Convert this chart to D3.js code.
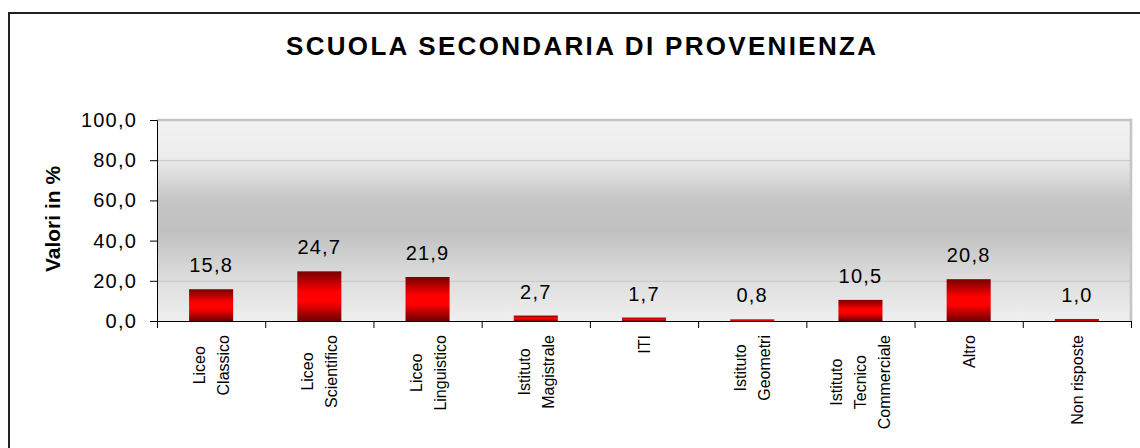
<!DOCTYPE html>
<html>
<head>
<meta charset="utf-8">
<script src="https://cdn.jsdelivr.net/npm/d3@7/dist/d3.min.js"></script>
<style>
  html, body { margin: 0; padding: 0; background: #fff; }
  svg { display: block; font-family: "Liberation Sans", Arial, sans-serif; }
</style>
</head>
<body>
<svg id="chart" width="1140" height="448"></svg>
<script>
// data
const categories = [
  ["Liceo", "Classico"],
  ["Liceo", "Scientifico"],
  ["Liceo", "Linguistico"],
  ["Istituto", "Magistrale"],
  ["ITI"],
  ["Istituto", "Geometri"],
  ["Istituto", "Tecnico", "Commerciale"],
  ["Altro"],
  ["Non risposte"]
];
const values = [15.8, 24.7, 21.9, 2.7, 1.7, 0.8, 10.5, 20.8, 1.0];
const yTicks = [0, 20, 40, 60, 80, 100];

const title = "SCUOLA SECONDARIA DI PROVENIENZA";
const yTitle = "Valori in %";

const svg = d3.select("#chart");
const W = 1140, H = 448;
const plot = { left: 157, right: 1131, top: 120, bottom: 321 };

const fmt = v => v.toFixed(1).replace(".", ",");

const defs = svg.append("defs");

// plot background: light at edges, darker in the middle
const bg = defs.append("linearGradient")
  .attr("id", "bgGrad").attr("x1", 0).attr("y1", 0).attr("x2", 0).attr("y2", 1);
[[0, "#f2f2f2"], [0.18, "#ececec"], [0.4, "#c6c6c6"], [0.55, "#c0c0c0"], [0.8, "#dedede"], [1, "#efefef"]]
  .forEach(([o, c]) => bg.append("stop").attr("offset", o).attr("stop-color", c));

// bar fill: dark red at top and bottom, bright red centre
const barGrad = defs.append("linearGradient")
  .attr("id", "barGrad").attr("x1", 0).attr("y1", 0).attr("x2", 0).attr("y2", 1);
[[0, "#780000"], [0.42, "#ff0000"], [0.62, "#ff0000"], [1, "#6e0000"]]
  .forEach(([o, c]) => barGrad.append("stop").attr("offset", o).attr("stop-color", c));

// outer frame (only left and top show in the crop)
svg.append("path")
  .attr("d", `M9,${H + 5} L9,13 L${W + 5},13`)
  .attr("fill", "none")
  .attr("stroke", "#222")
  .attr("stroke-width", 2);

// title
svg.append("text")
  .attr("x", 581).attr("y", 55)
  .attr("text-anchor", "middle")
  .attr("font-size", 26)
  .attr("font-weight", "bold")
  .attr("textLength", 590)
  .attr("lengthAdjust", "spacing")
  .text(title);

const x = d3.scaleBand()
  .domain(d3.range(categories.length))
  .range([plot.left, plot.right])
  .paddingInner(0.593)
  .paddingOuter(0.2965);

const y = d3.scaleLinear()
  .domain([0, 100])
  .range([plot.bottom, plot.top]);

// plot area background and frame
svg.append("rect")
  .attr("x", plot.left).attr("y", plot.top)
  .attr("width", plot.right - plot.left).attr("height", plot.bottom - plot.top)
  .attr("fill", "url(#bgGrad)");

svg.append("path")
  .attr("d", `M${plot.left},${plot.top} L${plot.right},${plot.top} L${plot.right},${plot.bottom}`)
  .attr("fill", "none")
  .attr("stroke", "#c4c4c4")
  .attr("stroke-width", 2.5);

// gridlines
svg.append("g")
  .selectAll("line")
  .data(yTicks.filter(t => t > 0 && t < 100))
  .enter().append("line")
  .attr("x1", plot.left).attr("x2", plot.right)
  .attr("y1", d => y(d) + 0.5).attr("y2", d => y(d) + 0.5)
  .attr("stroke", "#c6c6c6")
  .attr("stroke-width", 1);

// bars
svg.append("g")
  .selectAll("rect")
  .data(values)
  .enter().append("rect")
  .attr("x", (d, i) => x(i))
  .attr("y", d => y(d))
  .attr("width", x.bandwidth())
  .attr("height", d => y(0) - y(d))
  .attr("fill", "url(#barGrad)");

// value labels
svg.append("g")
  .selectAll("text")
  .data(values)
  .enter().append("text")
  .attr("x", (d, i) => x(i) + x.bandwidth() / 2)
  .attr("y", d => y(d) - 17)
  .attr("text-anchor", "middle")
  .attr("font-size", 20)
  .attr("letter-spacing", 1.2)
  .attr("fill", "#000")
  .text(fmt);

// y axis
const yAxis = svg.append("g")
  .attr("transform", `translate(${plot.left},0)`)
  .call(d3.axisLeft(y).tickValues(yTicks).tickSize(7).tickPadding(13).tickFormat(fmt));
yAxis.select(".domain").attr("stroke", "#000");
yAxis.selectAll(".tick line").attr("stroke", "#000");
yAxis.selectAll(".tick text")
  .attr("font-family", "Liberation Sans, Arial, sans-serif")
  .attr("font-size", 20)
  .attr("letter-spacing", 1.2)
  .attr("fill", "#000");

svg.append("text")
  .attr("transform", "translate(60,219) rotate(-90)")
  .attr("text-anchor", "middle")
  .attr("font-size", 21)
  .attr("font-weight", "bold")
  .text(yTitle);

// x axis: ticks at category boundaries
const xb = d3.scaleLinear().domain([0, categories.length]).range([plot.left, plot.right]);
const xAxis = svg.append("g")
  .attr("transform", `translate(0,${plot.bottom})`)
  .call(d3.axisBottom(xb).tickValues(d3.range(categories.length + 1)).tickSize(7).tickSizeOuter(0).tickFormat(""));
xAxis.select(".domain").attr("stroke", "#000");
xAxis.selectAll(".tick line").attr("stroke", "#000");

// category labels, rotated, lines centred inside a block anchored at the axis
const labelTop = 335, lineGap = 24;
const labels = svg.append("g")
  .selectAll("g")
  .data(categories)
  .enter().append("g");

labels.each(function (lines, i) {
  const g = d3.select(this);
  const cx = x(i) + x.bandwidth() / 2;
  const texts = g.selectAll("text")
    .data(lines)
    .enter().append("text")
    .attr("font-size", 16)
    .attr("text-anchor", "middle")
    .attr("fill", "#000")
    .text(d => d);
  const maxLen = d3.max(texts.nodes(), n => n.getComputedTextLength());
  const mid = labelTop + maxLen / 2;
  texts.attr("transform", (d, j) => {
    const lx = cx + (j - (lines.length - 1) / 2) * lineGap + 6;
    return `translate(${lx},${mid}) rotate(-90)`;
  });
});
</script>
</body>
</html>
